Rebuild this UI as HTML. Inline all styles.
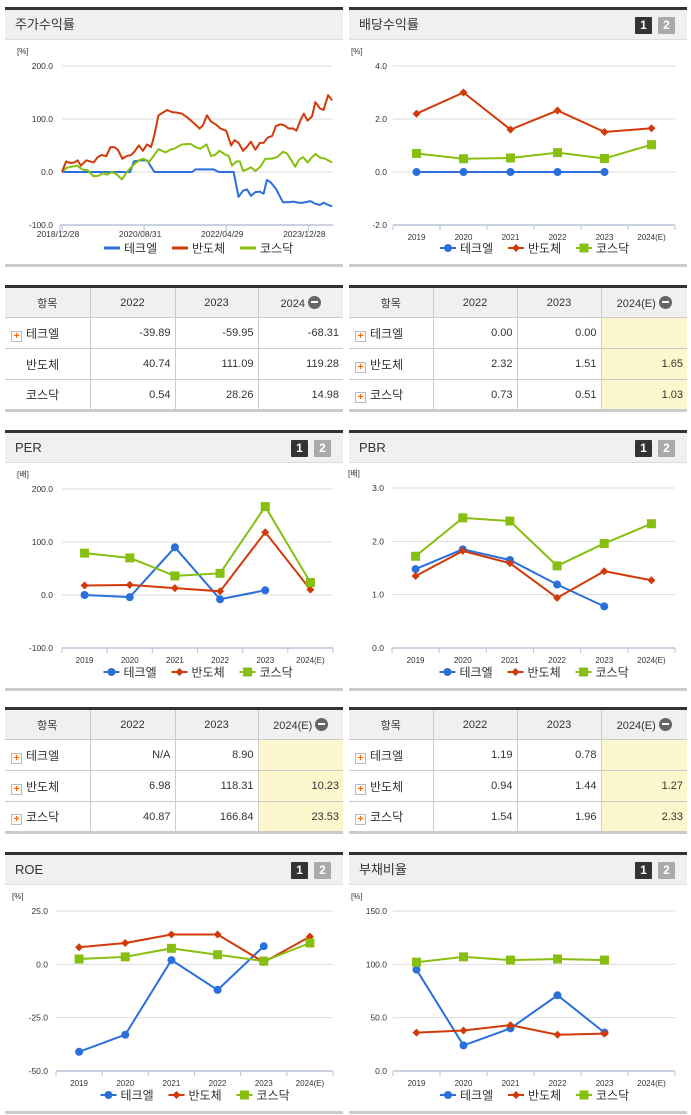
<!DOCTYPE html>
<html><head><meta charset="utf-8">
<style>
*{margin:0;padding:0;box-sizing:border-box}
body{width:691px;height:1115px;background:#fff;position:relative;overflow:hidden;font-family:"Liberation Sans","Noto Sans CJK KR",sans-serif;color:#333}
.panel{position:absolute;border-top:3px solid #333;border-bottom:3px solid #ccc}
.hd{height:30px;background:#f0f0f0;border-bottom:1px solid #ddd;font-size:13px;line-height:30px;padding-left:10px;color:#333;position:relative}
.btns{position:absolute;right:12px;top:7px;line-height:17px;height:17px}
.btns span{display:inline-block;width:17px;height:17px;font-size:12px;line-height:17px;text-align:center;color:#fff;font-weight:bold;margin-left:6px;border-radius:1px;vertical-align:top}
.b1{background:#333}.b2{background:#aaa}
table{position:absolute;border-collapse:collapse;border-top:3px solid #333;border-bottom:3px solid #ccc;font-size:11px;table-layout:fixed}
td,th{border:1px solid #ccc;height:31px;font-weight:normal}
th{background:#f0f0f0;text-align:center;font-size:11px}
td{text-align:right;padding-right:4px}
td.n{text-align:left;padding-left:6px;font-size:12px}
tr td:first-child,tr th:first-child{border-left:none}
tr td:last-child,tr th:last-child{border-right:none}
.hl{background:#fdf7cd}
.pl{display:inline-block;width:11px;height:11px;border:1px solid #bbb;background:#fff;color:#f60;font-size:10px;line-height:9px;text-align:center;font-weight:bold;margin-right:4px;vertical-align:-1px}
.mi{display:inline-block;width:13px;height:13px;border-radius:50%;background:#666;vertical-align:-2px;position:relative;margin-left:3px}
.mi:after{content:"";position:absolute;left:3px;top:5.5px;width:7px;height:2px;background:#fff}
svg{position:absolute;left:0;top:0}
</style></head><body>
<div class="panel" style="left:5px;top:7px;width:338px;height:260px"><div class="hd">주가수익률</div></div>
<div class="panel" style="left:349px;top:7px;width:338px;height:260px"><div class="hd">배당수익률<div class="btns"><span class="b1">1</span><span class="b2">2</span></div></div></div>
<div class="panel" style="left:5px;top:430px;width:338px;height:261px"><div class="hd">PER<div class="btns"><span class="b1">1</span><span class="b2">2</span></div></div></div>
<div class="panel" style="left:349px;top:430px;width:338px;height:261px"><div class="hd">PBR<div class="btns"><span class="b1">1</span><span class="b2">2</span></div></div></div>
<div class="panel" style="left:5px;top:852px;width:338px;height:262px"><div class="hd">ROE<div class="btns"><span class="b1">1</span><span class="b2">2</span></div></div></div>
<div class="panel" style="left:349px;top:852px;width:338px;height:262px"><div class="hd">부채비율<div class="btns"><span class="b1">1</span><span class="b2">2</span></div></div></div>

<table style="left:5px;top:285px;width:338px">
<colgroup><col style="width:85px"><col style="width:85px"><col style="width:83px"><col style="width:85px"></colgroup>
<tr><th>항목</th><th>2022</th><th>2023</th><th>2024<span class="mi"></span></th></tr>
<tr><td class="n"><span class="pl">+</span>테크엘</td><td>-39.89</td><td>-59.95</td><td>-68.31</td></tr>
<tr><td class="n" style="padding-left:21px">반도체</td><td>40.74</td><td>111.09</td><td>119.28</td></tr>
<tr><td class="n" style="padding-left:21px">코스닥</td><td>0.54</td><td>28.26</td><td>14.98</td></tr>
</table>
<table style="left:349px;top:285px;width:338px">
<colgroup><col style="width:84px"><col style="width:84px"><col style="width:84px"><col style="width:86px"></colgroup>
<tr><th>항목</th><th>2022</th><th>2023</th><th>2024(E)<span class="mi"></span></th></tr>
<tr><td class="n"><span class="pl">+</span>테크엘</td><td>0.00</td><td>0.00</td><td class="hl"></td></tr>
<tr><td class="n"><span class="pl">+</span>반도체</td><td>2.32</td><td>1.51</td><td class="hl">1.65</td></tr>
<tr><td class="n"><span class="pl">+</span>코스닥</td><td>0.73</td><td>0.51</td><td class="hl">1.03</td></tr>
</table>
<table style="left:5px;top:707px;width:338px">
<colgroup><col style="width:85px"><col style="width:85px"><col style="width:83px"><col style="width:85px"></colgroup>
<tr><th>항목</th><th>2022</th><th>2023</th><th>2024(E)<span class="mi"></span></th></tr>
<tr><td class="n"><span class="pl">+</span>테크엘</td><td>N/A</td><td>8.90</td><td class="hl"></td></tr>
<tr><td class="n"><span class="pl">+</span>반도체</td><td>6.98</td><td>118.31</td><td class="hl">10.23</td></tr>
<tr><td class="n"><span class="pl">+</span>코스닥</td><td>40.87</td><td>166.84</td><td class="hl">23.53</td></tr>
</table>
<table style="left:349px;top:707px;width:338px">
<colgroup><col style="width:84px"><col style="width:84px"><col style="width:84px"><col style="width:86px"></colgroup>
<tr><th>항목</th><th>2022</th><th>2023</th><th>2024(E)<span class="mi"></span></th></tr>
<tr><td class="n"><span class="pl">+</span>테크엘</td><td>1.19</td><td>0.78</td><td class="hl"></td></tr>
<tr><td class="n"><span class="pl">+</span>반도체</td><td>0.94</td><td>1.44</td><td class="hl">1.27</td></tr>
<tr><td class="n"><span class="pl">+</span>코스닥</td><td>1.54</td><td>1.96</td><td class="hl">2.33</td></tr>
</table>

<svg id="charts" width="691" height="1115"></svg>

<script>
// ---- stock return (time series, months since 2018/12) ----
const retTimeLabels = ['2018/12/28','2020/08/31','2022/04/29','2023/12/28'];
const retTimeTicks = [0, 20, 40, 60];
const semiT = [0,1.0,2.0,3.0,3.8,4.6,5.9,7.7,8.7,9.7,10.8,11.8,12.7,13.6,14.7,15.7,16.8,17.6,18.7,19.7,20.7,21.7,22.5,23.5,25.6,26.8,28.0,29.2,30.5,31.7,33.5,34.3,35.3,36.3,37.4,38.6,40.0,41.2,42.0,43.0,44.1,45.1,46.0,47.1,48.2,49.1,50.1,51.2,52.1,53.2,54.2,55.2,56.3,57.1,58.1,58.9,59.8,60.9,61.7,62.8,63.7,64.8,65.8];
const semiV = [0,20,17,18,22,12,22,18,28,32,30,47,47,42,25,30,32,38,50,40,52,47,70,107,117,113,112,110,103,95,82,88,107,95,90,82,78,50,60,55,40,48,57,42,55,55,65,68,87,90,88,82,82,78,98,110,97,105,132,120,117,145,135];
const kosT = [0,1.2,2.4,3.7,4.9,6.3,7.7,8.9,10.0,11.0,12.2,13.4,14.6,15.8,17.5,18.7,19.9,21.1,22.3,23.5,25.2,26.4,27.6,29.2,31.3,32.5,33.7,35.2,36.3,37.4,38.4,39.5,40.6,41.4,42.5,43.3,44.1,45.1,46.0,47.1,48.3,49.5,50.9,52.4,53.8,54.8,56.0,56.8,57.7,58.7,59.8,60.9,61.7,62.9,64.1,65.8];
const kosV = [0,8,10,12,5,3,-8,-7,-2,-5,0,-5,-14,0,14,22,25,18,30,43,37,42,45,52,53,47,44,52,30,33,40,34,30,12,20,20,2,5,9,2,10,25,25,28,38,35,20,10,23,28,18,28,34,27,25,18];
const techT = [0,16.6,17.5,19.1,20.7,22.5,31.7,32.5,36.9,38.2,41.8,43.0,44.1,45.1,46.0,47.1,48.2,49.1,49.9,50.9,52.2,53.8,55.2,56.4,57.7,58.7,60.5,61.7,62.8,63.7,64.8,65.8];
const techV = [0,0,20,22,22,0,0,5,5,0,0,-47,-35,-33,-45,-38,-37,-41,-15,-20,-33,-57,-57,-56,-58,-58,-55,-60,-62,-58,-62,-65];

// ---- category charts ----
const years = ['2019','2020','2021','2022','2023','2024(E)'];
const divTech = [0,0,0,0,0];
const divSemi = [2.2,3.0,1.6,2.32,1.51,1.65];
const divKos = [0.7,0.5,0.53,0.73,0.51,1.03];
const perTech = [0,-4,90,-8,8.9];
const perSemi = [18,19,13,6.98,118.31,10.23];
const perKos = [79,70,36,40.87,166.84,23.53];
const pbrTech = [1.48,1.85,1.65,1.19,0.78];
const pbrSemi = [1.35,1.82,1.59,0.94,1.44,1.27];
const pbrKos = [1.72,2.44,2.38,1.54,1.96,2.33];
const roeTech = [-41,-33,2,-12,8.5];
const roeSemi = [8,10,14,14,1,13];
const roeKos = [2.5,3.5,7.5,4.5,1.5,10];
const debtTech = [95,24,40,71,36];
const debtSemi = [36,38,43,34,35];
const debtKos = [102,107,104,105,104];

const C = {tech:'#2a6fdc', semi:'#d23a0a', kos:'#86bf10'};
const NS = 'http://www.w3.org/2000/svg';
const svg = document.getElementById('charts');
function mk(tag, attrs, parent){const e=document.createElementNS(NS,tag);for(const k in attrs)e.setAttribute(k,attrs[k]);(parent||svg).appendChild(e);return e;}
function txt(x,y,s,anchor,size,parent){const t=mk('text',{x:x,y:y,'text-anchor':anchor||'middle','font-size':size||9,fill:'#333','font-family':'Liberation Sans, Noto Sans CJK KR, sans-serif'},parent);t.textContent=s;return t;}

function axisY(g, x0, x1, yMin, yMax, pTop, pBot, ticks, dec, unit, labX){
  const ys = v => pBot - (v - yMin) / (yMax - yMin) * (pBot - pTop);
  ticks.forEach(v => {
    if (v !== yMin) mk('line',{x1:x0,x2:x1,y1:ys(v),y2:ys(v),stroke:'#ddd','stroke-width':1},g);
    const l = txt(labX, ys(v)+3, v.toFixed(dec), 'end', 8.5, g);
    
    
  });
  const u = txt(labX-36, pTop-12, unit, 'start', 8, g);
  
  
  return ys;
}

function marker(g, kind, x, y, color){
  if (kind==='tech') mk('circle',{cx:x,cy:y,r:4,fill:color},g);
  else if (kind==='semi') mk('path',{d:`M${x} ${y-4}L${x+4} ${y}L${x} ${y+4}L${x-4} ${y}Z`,fill:color},g);
  else mk('rect',{x:x-4.5,y:y-4.5,width:9,height:9,fill:color},g);
}

function legend(g, cx, y, withMarkers){
  const items=[['tech','테크엘'],['semi','반도체'],['kos','코스닥']];
  const w = 68; let x = cx - w*1.5 + 8;
  items.forEach(([k,name])=>{
    const lg = mk('g',{},g);
    
    
    mk('line',{x1:x,x2:x+16,y1:y,y2:y,stroke:C[k],'stroke-width':withMarkers?2:3},lg);
    if (withMarkers) marker(lg,k,x+8,y,C[k]);
    txt(x+20,y+4.5,name,'start',12,lg);
    x += w;
  });
}

function catChart(name, x0, x1, pTop, pBot, yMin, yMax, ticks, dec, unit, labX, series, legY){
  const g = mk('g',{});
  
  
  const ys = axisY(g, x0, x1, yMin, yMax, pTop, pBot, ticks, dec, unit, labX);
  const bw = (x1 - x0) / years.length;
  const xs = i => x0 + bw*(i+0.5);
  mk('line',{x1:x0,x2:x1,y1:pBot,y2:pBot,stroke:'#b8c4d8','stroke-width':1.5},g);
  for (let i=0;i<=years.length;i++) mk('line',{x1:x0+bw*i,x2:x0+bw*i,y1:pBot,y2:pBot+5,stroke:'#b8c4d8'},g);
  years.forEach((y,i)=>{const t=txt(xs(i),pBot+15,y,'middle',8,g);});
  series.forEach(([k,vals])=>{
    const sg = mk('g',{},g);
    
    
    mk('polyline',{points:vals.map((v,i)=>xs(i)+','+ys(v)).join(' '),fill:'none',stroke:C[k],'stroke-width':2},sg);
    vals.forEach((v,i)=>{
      const pt = mk('g',{},sg);
      
      
      marker(pt,k,xs(i),ys(v),C[k]);
    });
  });
  legend(g, (x0+x1)/2, legY, true);
}

// stock return chart
(function(){
  const g = mk('g',{});
  
  
  const x0=62, x1=333, tMax=66;
  const ys = axisY(g, x0, x1, -100, 200, 66, 225, [200,100,0,-100], 1, '[%]', 53);
  const xs = t => x0 + t/tMax*(x1-x0);
  mk('line',{x1:x0-2,x2:x1,y1:225,y2:225,stroke:'#b8c4d8','stroke-width':1.5},g);
  mk('line',{x1:x0-2,x2:x0-2,y1:225,y2:232,stroke:'#b8c4d8'},g);
  retTimeTicks.forEach((t,i)=>{
    mk('line',{x1:xs(t),x2:xs(t),y1:225,y2:232,stroke:'#b8c4d8'},g);
    const l = txt(xs(t)-4,237,retTimeLabels[i],'middle',8.5,g);
    
    
  });
  [['tech',techT,techV],['kos',kosT,kosV],['semi',semiT,semiV]].forEach(([k,T,V])=>{
    const p = mk('polyline',{points:T.map((t,i)=>xs(t)+','+ys(V[i])).join(' '),fill:'none',stroke:C[k],'stroke-width':2,'stroke-linejoin':'round'},g);
    
    
  });
  legend(g, 198, 248, false);
})();

catChart('dividend-chart', 393, 675, 66, 225, -2, 4, [4,2,0,-2], 1, '[%]', 387,
  [['tech',divTech],['semi',divSemi],['kos',divKos]], 248);
catChart('per-chart', 62, 333, 489, 648, -100, 200, [200,100,0,-100], 1, '[배]', 53,
  [['tech',perTech],['semi',perSemi],['kos',perKos]], 672);
catChart('pbr-chart', 392, 675, 488, 648, 0, 3, [3,2,1,0], 1, '[배]', 384,
  [['tech',pbrTech],['semi',pbrSemi],['kos',pbrKos]], 672);
catChart('roe-chart', 56, 333, 911, 1071, -50, 25, [25,0,-25,-50], 1, '[%]', 48,
  [['tech',roeTech],['semi',roeSemi],['kos',roeKos]], 1095);
catChart('debt-chart', 393, 675, 911, 1071, 0, 150, [150,100,50,0], 1, '[%]', 387,
  [['tech',debtTech],['semi',debtSemi],['kos',debtKos]], 1095);
</script>
</body></html>
